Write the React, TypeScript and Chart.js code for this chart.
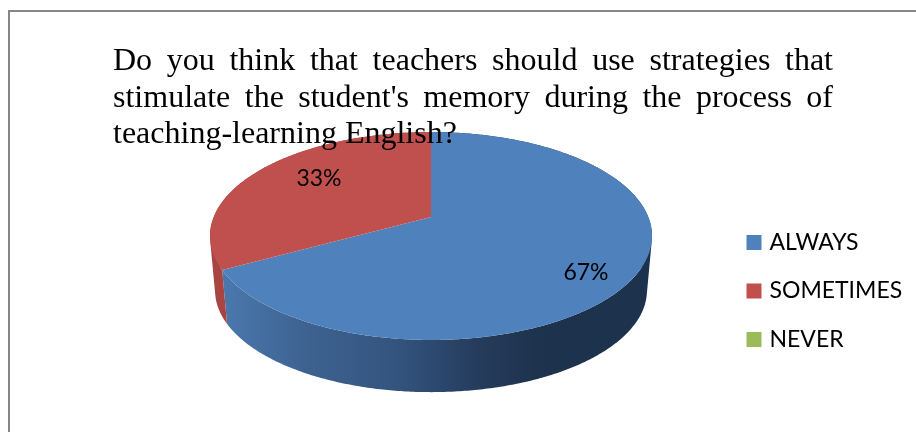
import { useEffect, useRef } from "react";
import { Chart, registerables } from "chart.js";

Chart.register(...registerables);

const titleText =
  "Do you think that teachers should use strategies that stimulate the student's memory during the process of teaching-learning English?";
const categories = ["ALWAYS", "SOMETIMES", "NEVER"];
const values = [67, 33, 0];
const colors = ["#4F81BD", "#C0504D", "#9BBB59"];

const FONT = "Lato, Carlito, Calibri, sans-serif";
const LABEL_SIZE = 23;

// perspective of the tilted disc
const K = 0.1827;
const SX = 1.0107;
const SY = 0.4674;
const DEPTH = 55;
const BOTTOM_SCALE = 0.977;

function project(cx: number, cy: number, R: number, angle: number, bottom = false) {
  const u = Math.cos(angle);
  const v = Math.sin(angle);
  const w = 1 - K * v;
  const s = bottom ? BOTTOM_SCALE : 1;
  return {
    x: cx + (R * SX * s * u) / w,
    y: cy + (bottom ? DEPTH : 0) + (R * SY * s * v) / w,
  };
}

function rim(ctx: CanvasRenderingContext2D, cx: number, cy: number, R: number, a0: number, a1: number) {
  const steps = Math.max(2, Math.ceil(Math.abs(a1 - a0) / 0.01));
  for (let i = 0; i <= steps; i++) {
    const p = project(cx, cy, R, a0 + ((a1 - a0) * i) / steps);
    ctx.lineTo(p.x, p.y);
  }
}

function sideWall(ctx: CanvasRenderingContext2D, cx: number, cy: number, R: number, a0: number, a1: number) {
  const steps = Math.max(2, Math.ceil(Math.abs(a1 - a0) / 0.01));
  for (let i = 0; i < steps; i++) {
    const a = a0 + ((a1 - a0) * i) / steps;
    const b = a0 + ((a1 - a0) * (i + 1)) / steps;
    const q = [project(cx, cy, R, a), project(cx, cy, R, b), project(cx, cy, R, b, true), project(cx, cy, R, a, true)];
    let area = 0;
    q.forEach((p, j) => {
      const n = q[(j + 1) % 4];
      area += p.x * n.y - n.x * p.y;
    });
    if (area < 0) q.reverse();
    ctx.moveTo(q[0].x, q[0].y);
    for (let j = 1; j < 4; j++) ctx.lineTo(q[j].x, q[j].y);
    ctx.closePath();
  }
}

const pie3d = {
  id: "pie3d",
  afterLayout(chart: any) {
    const lg = chart.legend;
    lg.left = 724.5;
    lg.right = lg.left + lg.width;
    lg.top = 205.5;
    lg.bottom = lg.top + lg.height;
  },
  beforeDatasetDraw() {
    return false;
  },
  beforeDatasetsDraw(chart: any) {
    const ctx: CanvasRenderingContext2D = chart.ctx;
    const arcs = chart.getDatasetMeta(0).data;
    const blueSide = ctx.createLinearGradient(224, 0, 540, 0);
    blueSide.addColorStop(0, "#4A78AE");
    blueSide.addColorStop(0.25, "#3E6391");
    blueSide.addColorStop(0.55, "#33547E");
    blueSide.addColorStop(0.8, "#253C5C");
    blueSide.addColorStop(1, "#1D324C");
    const sideFill = [blueSide, "#A64541", "#84A04A"];

    arcs.forEach((arc: any, i: number) => {
      if (arc.endAngle - arc.startAngle <= 0) return;
      ctx.beginPath();
      sideWall(ctx, arc.x, arc.y, arc.outerRadius, arc.startAngle, arc.endAngle);
      ctx.fillStyle = sideFill[i];
      ctx.fill("nonzero");
    });
    arcs.forEach((arc: any, i: number) => {
      if (arc.endAngle - arc.startAngle <= 0) return;
      ctx.beginPath();
      ctx.moveTo(arc.x, arc.y);
      rim(ctx, arc.x, arc.y, arc.outerRadius, arc.startAngle, arc.endAngle);
      ctx.closePath();
      ctx.fillStyle = colors[i];
      ctx.fill();
    });
  },
  afterDatasetsDraw(chart: any) {
    const ctx: CanvasRenderingContext2D = chart.ctx;
    const arcs = chart.getDatasetMeta(0).data;
    const total = values.reduce((a, b) => a + b, 0);
    const offsets = [
      { dx: 155, dy: 56 },
      { dx: -112, dy: -38 },
    ];
    ctx.save();
    ctx.font = `${LABEL_SIZE}px ${FONT}`;
    ctx.fillStyle = "#000";
    ctx.textAlign = "center";
    ctx.textBaseline = "middle";
    arcs.forEach((arc: any, i: number) => {
      if (!values[i]) return;
      const pct = Math.round((values[i] / total) * 100) + "%";
      ctx.fillText(pct, arc.x + offsets[i].dx, arc.y + offsets[i].dy);
    });
    ctx.restore();
  },
};

export default function App() {
  const ref = useRef<HTMLCanvasElement>(null);
  useEffect(() => {
    document.body.style.margin = "0";
    const chart = new Chart(ref.current!, {
      type: "pie",
      data: {
        labels: categories,
        datasets: [{ data: values, backgroundColor: colors, borderWidth: 0 }],
      },
      plugins: [pie3d],
      options: {
        responsive: false,
        animation: false,
        layout: { padding: { left: 0, right: 54, top: 2, bottom: 0 } },
        plugins: {
          tooltip: { enabled: false },
          title: { display: false },
          legend: {
            display: true,
            position: "chartArea",
            align: "start",
            labels: {
              font: { family: FONT, size: LABEL_SIZE },
              color: "#000",
              boxWidth: 8,
              boxHeight: 8,
              padding: 25.5,
              generateLabels: () =>
                categories.map((text, i) => ({
                  text,
                  fillStyle: colors[i],
                  strokeStyle: colors[i],
                  lineWidth: 7,
                  hidden: false,
                  index: i,
                })),
            },
          },
        },
      } as any,
    });
    return () => chart.destroy();
  }, []);

  return (
    <div style={{ position: "absolute", left: 0, top: 0, width: 916, height: 432, overflow: "hidden", background: "#fff" }}>
      <canvas ref={ref} width={916} height={432} style={{ position: "absolute", left: 0, top: 0 }} />
      <div
        style={{
          position: "absolute",
          left: 8,
          top: 10,
          width: 920,
          height: 440,
          borderTop: "2px solid #868686",
          borderLeft: "2px solid #868686",
        }}
      />
      <div
        style={{
          position: "absolute",
          left: 113,
          top: 41,
          width: 720,
          fontFamily: "'Liberation Serif', 'Times New Roman', serif",
          fontSize: 32,
          lineHeight: "36.6px",
          textAlign: "justify",
          color: "#000",
        }}
      >
        {titleText}
      </div>
    </div>
  );
}
